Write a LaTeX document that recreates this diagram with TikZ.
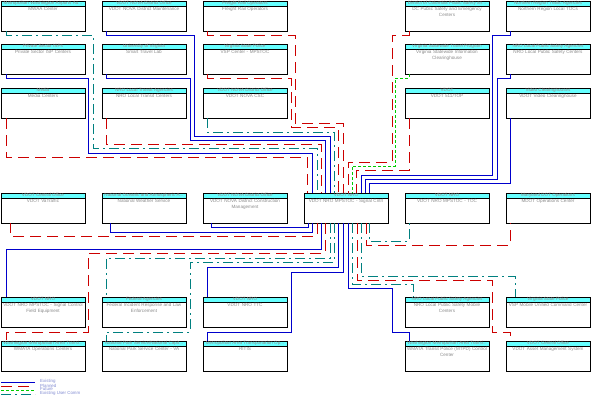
\documentclass[tikz,border=0pt]{standalone}
\usepackage{fontspec}
\setmainfont{Liberation Sans}
\definecolor{hdr}{RGB}{102,255,255}
\definecolor{txt}{RGB}{140,140,140}
\definecolor{exc}{RGB}{0,0,204}
\definecolor{plc}{RGB}{204,0,0}
\definecolor{fuc}{RGB}{0,204,0}
\definecolor{usc}{RGB}{0,128,128}
\definecolor{legt}{RGB}{130,140,210}
\tikzset{
 boxst/.style={draw=black, line width=1pt, fill=white, minimum width=84pt, minimum height=30pt, inner sep=0pt, outer sep=0pt, anchor=north west},
 hdrst/.style={draw=black, line width=0.8pt, fill=hdr, minimum width=84pt, minimum height=5pt, inner sep=0pt, outer sep=0pt, anchor=north west},
 hdrtxt/.style={text=txt, font=\fontsize{4.6}{5}\selectfont, inner sep=0pt},
 bodytxt/.style={text=txt, font=\fontsize{4.6}{5.6}\selectfont, inner sep=0pt, align=center, anchor=north, text width=82pt},
 legtxt/.style={text=legt, font=\fontsize{4.4}{5}\selectfont, inner sep=0pt, anchor=west},
 existing/.style={draw=exc, line width=1pt},
 planned/.style={draw=plc, line width=1pt, dash pattern=on 11pt off 6pt},
 future/.style={draw=fuc, line width=1pt, dash pattern=on 3pt off 2pt},
 usercomm/.style={draw=usc, line width=1pt, dash pattern=on 10pt off 4pt on 2pt off 4pt}
}
\newcommand{\ibox}[5]{%
 \node[boxst] (#1) at (#2,#3) {};
 \node[hdrst] (#1h) at (#2,#3) {};
 \node[hdrtxt] (#1t) at ([yshift=0.2pt]#1h.center) {#4};
 \node[bodytxt] (#1b) at ([yshift=-1.3pt]#1h.south) {#5};
}
\begin{document}
\begin{tikzpicture}[x=1pt,y=-1pt]
\useasboundingbox[fill=white] (0,0) rectangle (592,400);
% row 1
\ibox{mwaa}{1}{1}{Metropolitan Washington Airports Au...}{MWAA Center}
\ibox{maint}{102}{1}{VDOT NOVA District Office}{VDOT NOVA District Maintenance}
\ibox{freight}{203}{1}{Freight Rail Operators}{Freight Rail Operators}
\ibox{dcps}{405}{1}{District of Columbia Public Safety an...}{DC Public Safety and Emergency\\Centers}
\ibox{nrtoc}{506}{1}{Northern Region Traffic Agencies}{Northern Region Local TOCs}
% row 2
\ibox{isp}{1}{44}{Private Sector ISPs}{Private Sector ISP Centers}
\ibox{stl}{102}{44}{University of Virginia}{Smart Travel Lab}
\ibox{vsp}{203}{44}{Virginia State Police}{VSP Center - MPSTOC}
\ibox{vsic}{405}{44}{Virginia Statewide Travel Program}{Virginia Statewide Information\\Clearinghouse}
\ibox{nrolps}{506}{44}{NRO Local Public Safety Agencies}{NRO Local Public Safety Centers}
% row 3
\ibox{media}{1}{88}{Media}{Media Centers}
\ibox{nrotransit}{102}{88}{NRO Local Transit Agencies}{NRO Local Transit Centers}
\ibox{csc}{203}{88}{VDOT NOVA District Office}{VDOT NOVA CSC}
\ibox{vdotfive}{405}{88}{VDOT}{VDOT 511/TOP}
\ibox{video}{506}{88}{Video Clearinghouses}{VDOT Video Clearinghouse}
% row 4
\ibox{vatraffic}{1}{193}{VDOT Central Office}{VDOT VaTraffic}
\ibox{nws}{102}{193}{National Oceanic and Atmospheric A...}{National Weather Service}
\ibox{const}{203}{193}{VDOT NOVA District Office}{VDOT NOVA District Construction\\Management}
\ibox{ctr}{304}{193}{VDOT NRO}{VDOT NRO MPSTOC - Signal Cntrl}
\ibox{nrotoc}{405}{193}{VDOT NRO}{VDOT NRO MPSTOC - TOC}
\ibox{mdot}{506}{193}{Maryland DOT Operations}{MDOT Operations Center}
% row 5
\ibox{sigfe}{1}{297}{VDOT NRO}{VDOT NRO MPSTOC - Signal Control\\Field Equipment}
\ibox{federal}{102}{297}{Federal Agencies}{Federal Incident Response and Law\\Enforcement}
\ibox{ttc}{203}{297}{VDOT NRO}{VDOT NRO TTC}
\ibox{nrolpsm}{405}{297}{NRO Local Public Safety Agencies}{NRO Local Public Safety Mobile\\Centers}
\ibox{vspm}{506}{297}{Virginia State Police}{VSP Mobile Unified Command Center}
% row 6
\ibox{wmata}{1}{341}{Washington Metropolitan Area Transi...}{WMATA Operations Centers}
\ibox{nps}{102}{341}{National Park Service/National Capit...}{National Park Service Center - VA}
\ibox{ritis}{203}{341}{Metropolitan Area Transportation Op...}{RITIS}
\ibox{mtpd}{405}{341}{Washington Metropolitan Area Transi...}{WMATA Transit Police (MTPD) Control\\Center}
\ibox{asset}{506}{341}{VDOT Central Office}{VDOT Asset Management System}

% top-left connectors
\draw[planned] ([xshift=5pt]media.south west) |- (307,157) -- ([xshift=3pt]ctr.north west);
\draw[existing] ([xshift=5pt]isp.south west) |- (88,78) |- (312,153) -- ([xshift=8pt]ctr.north west);
\draw[usercomm] ([xshift=5pt]mwaa.south west) |- (93,35) |- (317,148) -- ([xshift=13pt]ctr.north west);
\draw[planned] ([xshift=4pt]nrotransit.south west) |- (321,144) -- ([xshift=17pt]ctr.north west);
\draw[existing] ([xshift=4pt]stl.south west) |- (190,78) |- (325,140) -- ([xshift=21pt]ctr.north west);
\draw[existing] ([xshift=4pt]maint.south west) |- (194,35) |- (330,136) -- ([xshift=26pt]ctr.north west);
\draw[usercomm] ([xshift=4pt]csc.south west) |- (334,132) -- ([xshift=30pt]ctr.north west);
\draw[planned] ([xshift=4pt]vsp.south west) |- (291,78) |- (338,127) -- ([xshift=34pt]ctr.north west);
\draw[planned] ([xshift=4pt]freight.south west) |- (295,35) |- (343,123) -- ([xshift=39pt]ctr.north west);
% top-right connectors
\draw[planned] ([xshift=4pt]dcps.south west) |- (392,35) |- (348,162) -- ([xshift=44pt]ctr.north west);
\draw[future] ([xshift=4pt]vsic.south west) |- (395,78) |- (352,166) -- ([xshift=48pt]ctr.north west);
\draw[planned] ([xshift=4pt]vdotfive.south west) |- (356,170) -- ([xshift=52pt]ctr.north west);
\draw[existing] ([xshift=4pt]nrtoc.south west) |- (492,35) |- (361,175) -- ([xshift=57pt]ctr.north west);
\draw[existing] ([xshift=4pt]nrolps.south west) |- (497,78) |- (365,179) -- ([xshift=61pt]ctr.north west);
\draw[existing] ([xshift=4pt]video.south west) |- (369,183) -- ([xshift=65pt]ctr.north west);
% bottom-left connectors
\draw[existing] ([xshift=4pt]ctr.south west) -- ++(0,4) -| ([xshift=8pt]const.south west);
\draw[existing] ([xshift=8pt]ctr.south west) -- ++(0,9) -| ([xshift=8pt]nws.south west);
\draw[planned] ([xshift=13pt]ctr.south west) -- ++(0,13) -| ([xshift=9pt]vatraffic.south west);
\draw[existing] ([xshift=17pt]ctr.south west) -- ++(0,26) -| ([xshift=5pt]sigfe.north west);
\draw[planned] ([xshift=21pt]ctr.south west) -- ++(0,30) -| (88,332) -| ([xshift=5pt]wmata.north west);
\draw[usercomm] ([xshift=26pt]ctr.south west) -- ++(0,35) -| ([xshift=4pt]federal.north west);
\draw[usercomm] ([xshift=30pt]ctr.south west) -- ++(0,39) -| (190,332) -| ([xshift=4pt]nps.north west);
\draw[existing] ([xshift=34pt]ctr.south west) -- ++(0,44) -| ([xshift=4pt]ttc.north west);
\draw[existing] ([xshift=39pt]ctr.south west) -- ++(0,49) -| (291,332) -| ([xshift=4pt]ritis.north west);
% bottom-right connectors
\draw[existing] ([xshift=44pt]ctr.south west) -- ++(0,65) -| (392,332) -| ([xshift=4pt]mtpd.north west);
\draw[usercomm] ([xshift=48pt]ctr.south west) -- ++(0,61) -| ([xshift=8pt]nrolpsm.north west);
\draw[planned] ([xshift=53pt]ctr.south west) -- ++(0,57) -| (492,332) -| ([xshift=4pt]asset.north west);
\draw[usercomm] ([xshift=57pt]ctr.south west) -- ++(0,53) -| ([xshift=9pt]vspm.north west);
\draw[planned] ([xshift=62pt]ctr.south west) -- ++(0,22) -| ([xshift=4pt]mdot.south west);
\draw[usercomm] ([xshift=65pt]ctr.south west) -- ++(0,18) -| ([xshift=4pt]nrotoc.south west);

% legend
\coordinate (la1) at (1,382); \coordinate (lb1) at (35,382);
\coordinate (la2) at (1,386); \coordinate (lb2) at (35,386);
\coordinate (la3) at (1,390); \coordinate (lb3) at (35,390);
\coordinate (la4) at (1,394); \coordinate (lb4) at (35,394);
\draw[existing] (la1) -- (lb1);
\draw[planned] (la2) -- (lb2);
\draw[future] (la3) -- (lb3);
\draw[usercomm] (la4) -- (lb4);
\node[legtxt] (lt1) at (40,381.5) {Existing};
\node[legtxt] (lt2) at (40,385.5) {Planned};
\node[legtxt] (lt3) at (40,389.5) {Future};
\node[legtxt] (lt4) at (40,393.5) {Existing User Comm};
\end{tikzpicture}
\end{document}
